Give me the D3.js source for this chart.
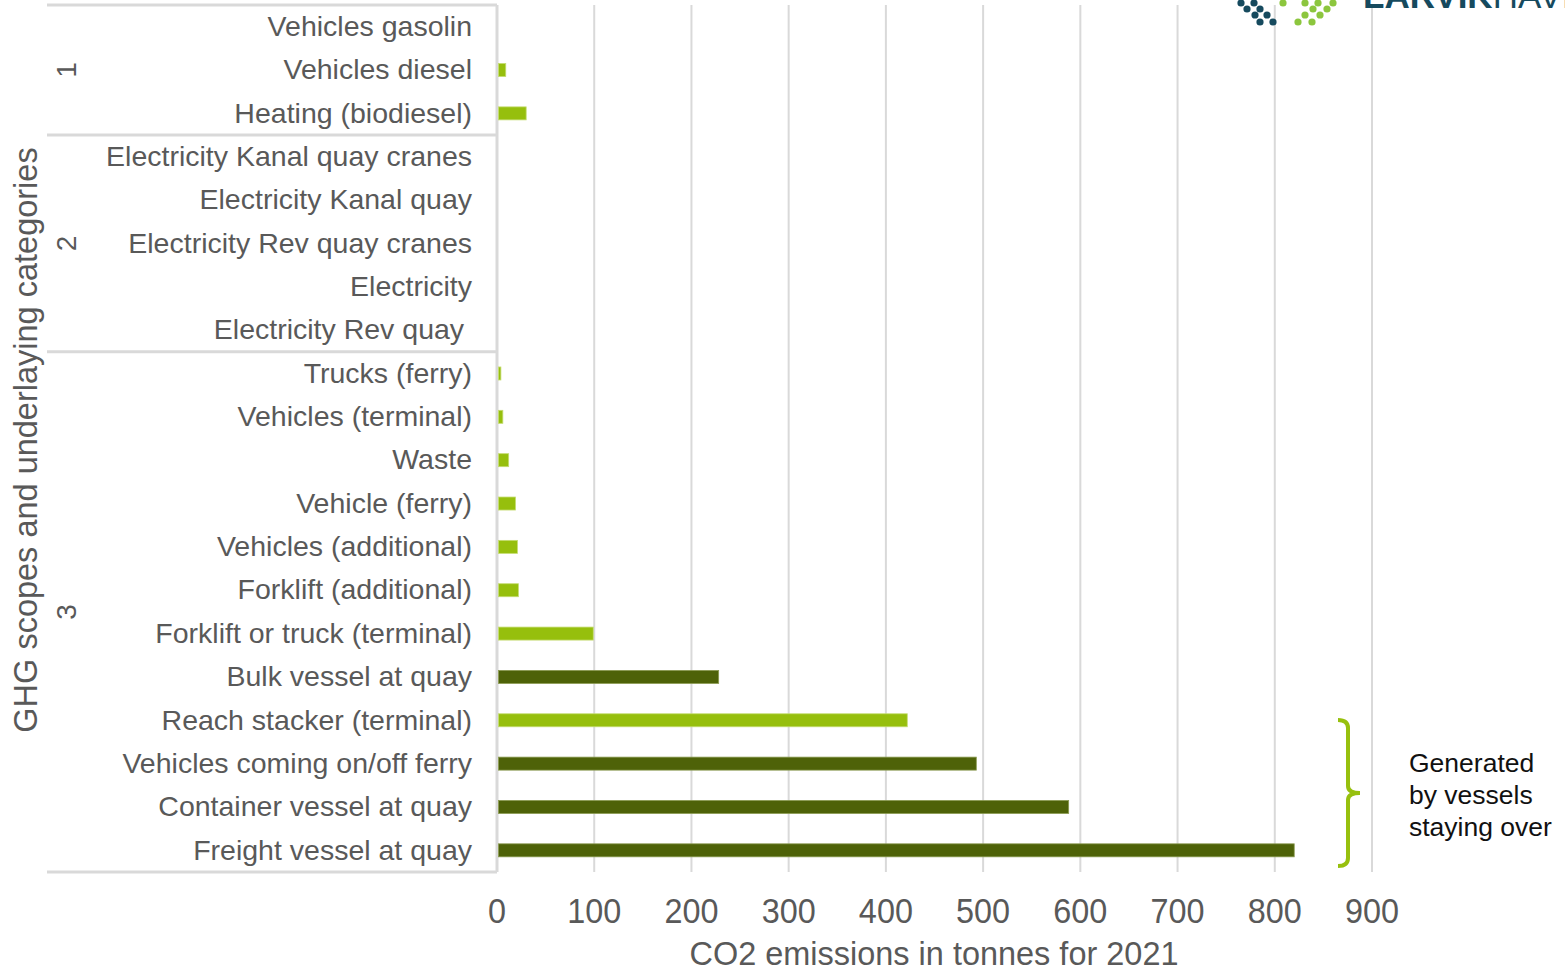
<!DOCTYPE html>
<html><head><meta charset="utf-8">
<script src="https://cdn.jsdelivr.net/npm/d3@7"></script>
<style>
html,body{margin:0;padding:0;background:#fff;overflow:hidden;}
text{font-family:"Liberation Sans",Arial,sans-serif;}
</style></head>
<body><svg id="c" width="1565" height="972"></svg>
<script>
const categories = ["Vehicles gasolin","Vehicles diesel","Heating (biodiesel)",
  "Electricity Kanal quay cranes","Electricity Kanal quay","Electricity Rev quay cranes","Electricity","Electricity Rev quay\u00a0",
  "Trucks (ferry)","Vehicles (terminal)","Waste","Vehicle (ferry)","Vehicles (additional)","Forklift (additional)",
  "Forklift or truck (terminal)","Bulk vessel at quay","Reach stacker (terminal)","Vehicles coming on/off ferry",
  "Container vessel at quay","Freight vessel at quay"];
const values = [0,9,30, 0,0,0,0,0, 4,6,12,19,21,22,99,228,422,493,588,820];
const vesselFlag = [0,0,0, 0,0,0,0,0, 0,0,0,0,0,0,0,1,0,1,1,1];
const groups = ["1","2","3"];
const groupSizes = [3,5,12];
const xTicks = [0,100,200,300,400,500,600,700,800,900];

const svg = d3.select("#c");
const x = d3.scaleLinear().domain([0,900]).range([497,1372]);
const y = d3.scaleBand().domain(categories).range([5,872]);
const grid = "#d9d9d9";

// gridlines
svg.append("g").selectAll("line").data(xTicks.slice(1)).join("line")
  .attr("x1",d=>x(d)).attr("x2",d=>x(d)).attr("y1",5).attr("y2",872)
  .attr("stroke",grid).attr("stroke-width",2);

// group separators
let bounds=[0]; groupSizes.reduce((a,b)=>{bounds.push(a+b);return a+b;},0);
const sepY = bounds.map(i=> i<categories.length ? y(categories[i]) : y.range()[1]);
svg.append("g").selectAll("line").data(sepY).join("line")
  .attr("x1",47).attr("x2",497).attr("y1",d=>d).attr("y2",d=>d)
  .attr("stroke",grid).attr("stroke-width",3);
svg.append("line").attr("x1",x(0)).attr("x2",x(0)).attr("y1",5).attr("y2",872)
  .attr("stroke",grid).attr("stroke-width",3);

// bars
const bh = 13;
svg.append("g").selectAll("rect").data(categories.map((c,i)=>({c,v:values[i],f:vesselFlag[i]})).filter(d=>d.v>0)).join("rect")
  .attr("x",x(0)+1.5).attr("y",d=>y(d.c)+y.bandwidth()/2-bh/2)
  .attr("width",d=>x(d.v)-x(0)-1.5).attr("height",bh)
  .attr("fill",d=>d.f?"#4e6208":"#96bf0d")
  .attr("stroke",d=>d.f?"#8a9a50":"#c4dc70").attr("stroke-width",0.8);

// category labels
svg.append("g").selectAll("text").data(categories).join("text")
  .attr("x",472).attr("y",d=>y(d)+y.bandwidth()/2-1).attr("dy","0.36em")
  .attr("text-anchor","end").attr("font-size",28.5).attr("fill","#595959")
  .style("white-space","pre").text(d=>d);

// group labels
let start=0;
groups.forEach((g,i)=>{
  const y0=y(categories[start]); const end=start+groupSizes[i];
  const y1 = end<categories.length? y(categories[end]) : y.range()[1];
  svg.append("text").attr("transform",`translate(66,${(y0+y1)/2}) rotate(-90)`)
    .attr("text-anchor","middle").attr("dy","0.36em").attr("font-size",28).attr("fill","#595959").text(g);
  start=end;
});

// y title
svg.append("text").attr("transform","translate(25,440) rotate(-90)")
  .attr("text-anchor","middle").attr("dy","0.36em").attr("font-size",32.5).attr("fill","#595959")
  .text("GHG scopes and underlaying categories");

// x ticks
svg.append("g").selectAll("text").data(xTicks).join("text")
  .attr("transform",d=>`translate(${x(d)},910) scale(0.9,1)`).attr("dy","0.36em").attr("text-anchor","middle")
  .attr("font-size",36).attr("fill","#595959").text(d=>d);
svg.append("text").attr("transform","translate(934,953) scale(0.955,1)").attr("dy","0.36em").attr("text-anchor","middle")
  .attr("font-size",34).attr("fill","#595959")
  .text("CO2 emissions in tonnes for 2021");

// bracket annotation
svg.append("path").attr("d","M1338,720 Q1348,720 1348,728 L1348,786 Q1348,793 1360,793 Q1348,793 1348,800 L1348,858 Q1348,866 1338,866")
  .attr("fill","none").attr("stroke","#97c00e").attr("stroke-width",4);
const ann=["Generated","by vessels","staying over"];
svg.append("g").selectAll("text").data(ann).join("text")
  .attr("x",1409).attr("y",(d,i)=>762+i*32).attr("dy","0.36em")
  .attr("font-size",26.5).attr("fill","#111").text(d=>d);

// logo (decorative, cropped at top as in the reference)
const darkDots=[[1241,3],[1254,3],[1247,9],[1260,9],[1255,15],[1267,15],[1260,22],[1273,22]];
const greenDots=[[1283,3],[1305,3],[1318,3],[1333,3],[1313,9],[1327,9],[1305,15],[1320,15],[1298,22],[1312,22]];
svg.append("g").selectAll("circle").data(darkDots).join("circle")
  .attr("cx",d=>d[0]).attr("cy",d=>d[1]).attr("r",3.6).attr("fill","#164a5e");
svg.append("g").selectAll("circle").data(greenDots).join("circle")
  .attr("cx",d=>d[0]).attr("cy",d=>d[1]).attr("r",3.6).attr("fill","#8cc63e");
const lg=svg.append("text").attr("x",1363).attr("y",8).attr("font-size",35).attr("fill","#164a5e");
lg.append("tspan").attr("font-weight","bold").text("LARVIK");
lg.append("tspan").attr("font-weight","normal").text("HAVN");
</script></body></html>
